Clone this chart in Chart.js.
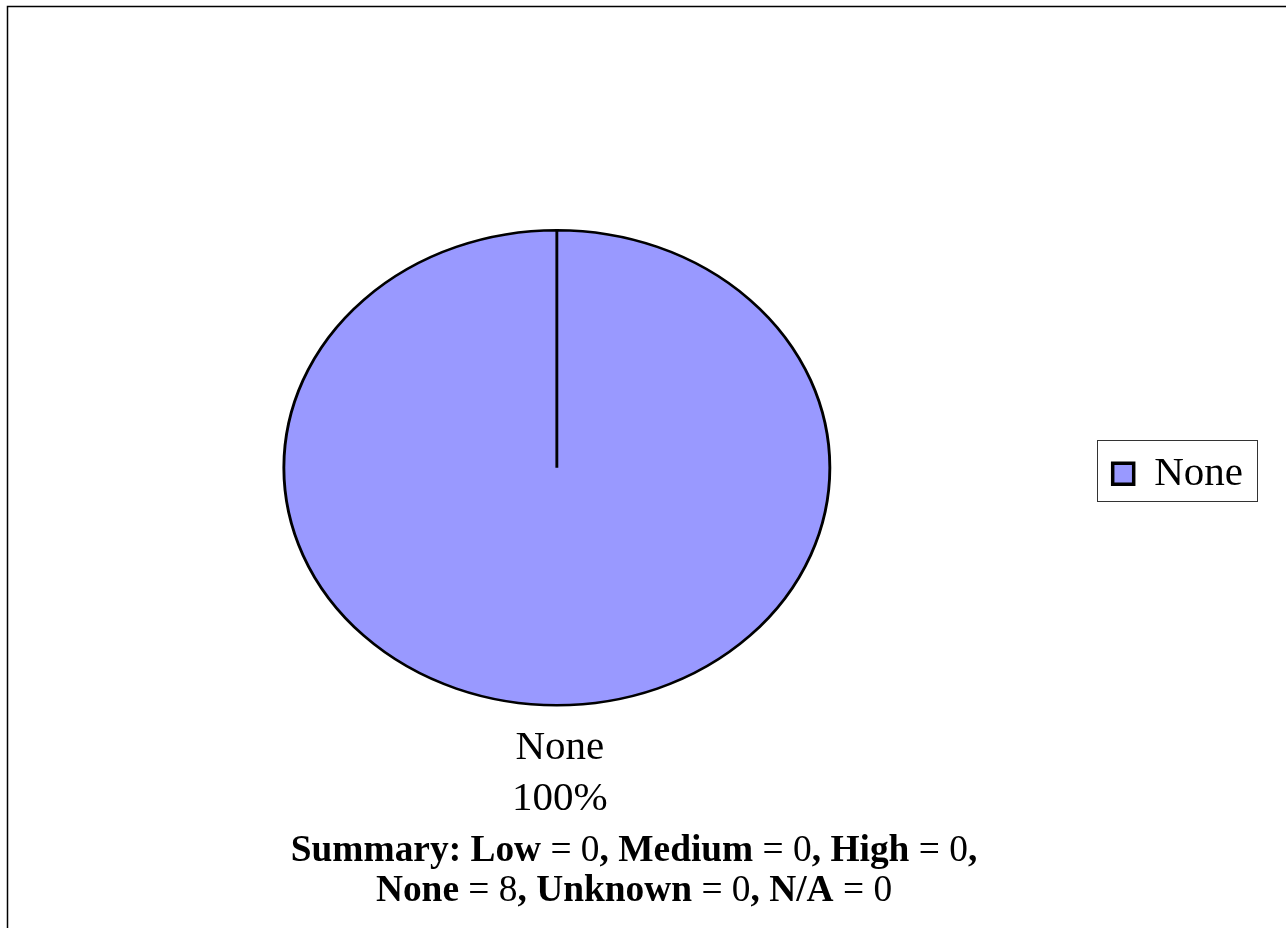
<!DOCTYPE html>
<html>
<head>
<meta charset="utf-8">
<title>Summary</title>
<script src="https://cdn.jsdelivr.net/npm/chart.js@4/dist/chart.umd.min.js"></script>
<style>
    html, body { margin: 0; padding: 0; background: #fff; }
    #wrap { position: relative; width: 1286px; height: 928px; overflow: hidden; }
</style>
</head>
<body>
<div id="wrap"><canvas id="myChart" width="1286" height="928"></canvas></div>
<script>

/**
 * Data
 */

var categories = ['Low', 'Medium', 'High', 'None', 'Unknown', 'N/A'];
var counts = [0, 0, 0, 8, 0, 0];

// colour per category
var categoryColors = {
    'Low': '#FFFF99',
    'Medium': '#FF9900',
    'High': '#FF0000',
    'None': '#9999FF',
    'Unknown': '#C0C0C0',
    'N/A': '#FFFFFF'
};

// only categories with a count show up in the pie
var pieLabels = categories.filter(function (c, i) { return counts[i] > 0; });
var pieValues = counts.filter(function (v) { return v > 0; });

var serif = "'Liberation Serif', 'Times New Roman', serif";

/**
 * Plugins
 */

// pie is drawn as an ellipse (wider than tall)
var stretchPie = {
    id: 'stretchPie',
    afterLayout: function (chart) {
        // legend sits a little below the pie centre
        chart.legend.top += 6;
        chart.legend.bottom += 6;
    },
    beforeDatasetsDraw: function (chart) {
        var arc = chart.getDatasetMeta(0).data[0];
        var ctx = chart.ctx;
        ctx.save();
        ctx.translate(arc.x, arc.y);
        ctx.scale(546 / 475, 1);
        ctx.translate(-arc.x, -arc.y);
    },
    afterDatasetsDraw: function (chart) {
        chart.ctx.restore();
    }
};

// frame, legend border, slice labels, summary
var extras = {
    id: 'extras',
    beforeDraw: function (chart) {
        var ctx = chart.ctx;
        ctx.save();
        ctx.fillStyle = '#fff';
        ctx.fillRect(0, 0, chart.width, chart.height);
        ctx.strokeStyle = '#000';
        ctx.lineWidth = 1.5;
        ctx.beginPath();
        ctx.moveTo(7.5, chart.height);
        ctx.lineTo(7.5, 6.5);
        ctx.lineTo(chart.width, 6.5);
        ctx.stroke();
        ctx.restore();
    },
    afterDraw: function (chart) {
        var ctx = chart.ctx;
        var meta = chart.getDatasetMeta(0);
        var total = pieValues.reduce(function (a, b) { return a + b; }, 0);

        ctx.save();

        // legend border
        var hb = chart.legend.legendHitBoxes[0];
        if (hb) {
            var cy = hb.top + hb.height / 2;
            ctx.strokeStyle = '#333';
            ctx.lineWidth = 1;
            ctx.strokeRect(Math.round(hb.left - 16) + 0.5, Math.round(cy - 34) + 0.5, Math.round(hb.width + 30), 61);
        }

        // slice labels below the pie
        ctx.fillStyle = '#000';
        ctx.textAlign = 'center';
        ctx.textBaseline = 'alphabetic';
        ctx.font = '41px ' + serif;
        meta.data.forEach(function (arc, i) {
            var pct = Math.round(pieValues[i] / total * 100) + '%';
            var y = arc.y + arc.outerRadius + 54;
            ctx.fillText(pieLabels[i], arc.x + 3, y);
            ctx.fillText(pct, arc.x + 3, y + 51);
        });

        // summary lines, names bold and values plain
        var lines = [[0, 1, 2], [3, 4, 5]];
        var first = true;
        lines.forEach(function (idx, li) {
            var runs = [];
            idx.forEach(function (k, j) {
                var name = (first ? 'Summary: ' : '') + categories[k];
                first = false;
                runs.push({ t: name, b: true });
                runs.push({ t: ' = ' + counts[k], b: false });
                if (j < idx.length - 1) {
                    runs.push({ t: ', ', b: true });
                } else if (li === 0) {
                    runs.push({ t: ',', b: true });
                }
            });
            var width = 0;
            runs.forEach(function (r) {
                ctx.font = (r.b ? 'bold ' : '') + '37.4px ' + serif;
                r.w = ctx.measureText(r.t).width;
                width += r.w;
            });
            var x = 634 - width / 2;
            ctx.textAlign = 'left';
            runs.forEach(function (r) {
                ctx.font = (r.b ? 'bold ' : '') + '37.4px ' + serif;
                ctx.fillText(r.t, x, 861 + li * 40);
                x += r.w;
            });
        });

        ctx.restore();
    }
};

/**
 * Chart.js
 */

var ctx = document.getElementById('myChart').getContext('2d');
var chart = new Chart(ctx, {
    type: 'pie',
    data: {
        labels: pieLabels,
        datasets: [{
            data: pieValues,
            backgroundColor: pieLabels.map(function (c) { return categoryColors[c]; }),
            borderColor: '#000',
            borderWidth: 2.5
        }]
    },
    options: {
        responsive: false,
        animation: false,
        events: [],
        layout: {
            padding: { left: 11, right: 33, top: 229, bottom: 221.5 }
        },
        plugins: {
            legend: {
                position: 'right',
                labels: {
                    boxWidth: 21,
                    boxHeight: 21,
                    padding: 10,
                    color: '#000',
                    font: { family: serif, size: 41 },
                    generateLabels: function (chart) {
                        var items = Chart.overrides.pie.plugins.legend.labels.generateLabels(chart);
                        items.forEach(function (it) { it.lineWidth = 3.5; });
                        return items;
                    }
                }
            },
            tooltip: { enabled: false }
        }
    },
    plugins: [stretchPie, extras]
});

</script>
</body>
</html>
